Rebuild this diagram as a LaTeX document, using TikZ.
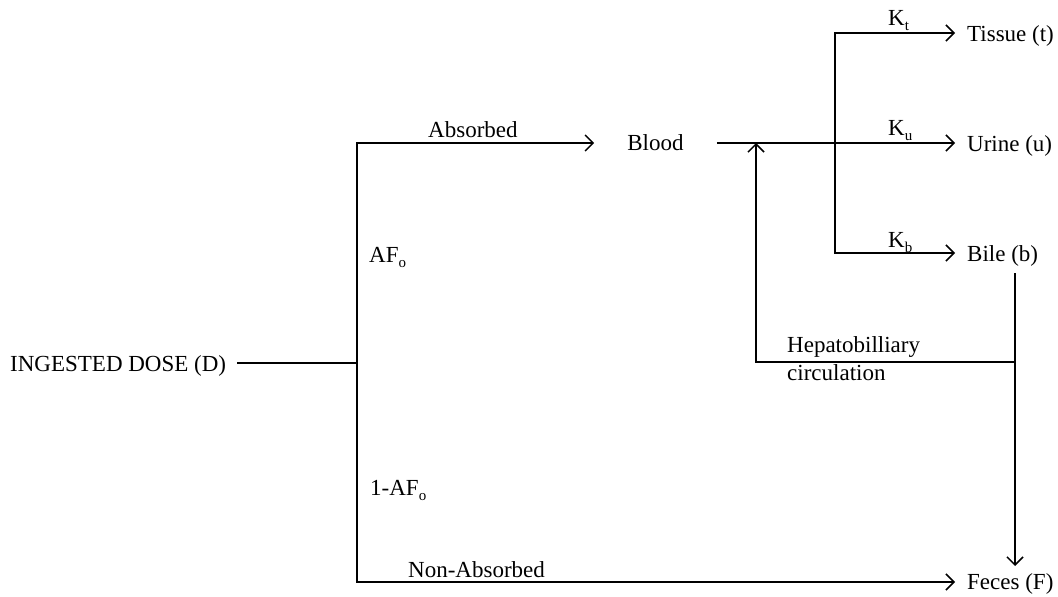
\documentclass[tikz,border=0pt]{standalone}
\usepackage{fontspec}
\setmainfont{Liberation Serif}
\usetikzlibrary{arrows.meta,calc}
\newcommand{\sbs}[1]{\raisebox{-5pt}{\fontsize{15}{15}\selectfont #1}}
\begin{document}
\begin{tikzpicture}[x=1pt,y=-1pt,
  every node/.style={inner sep=0pt, font=\fontsize{23}{28}\selectfont},
  conn/.style={line width=1.6pt},
  arr/.style={conn,-{Straight Barb[length=8pt,width=16pt,line width=1.5pt]}},
  lbl/.style={anchor=base west},
  tgt/.style={anchor=base west, inner xsep=12pt, inner ysep=0pt}]
\useasboundingbox (0,0) rectangle (1058,597);
% nodes
\node[lbl] (dose) at (10,371) {INGESTED DOSE (D)};
\node[inner xsep=33pt] (blood) at (655.5,143) {Blood};
\node[tgt] (tissue) at (955,41) {Tissue (t)};
\node[tgt] (urine) at (955,151) {Urine (u)};
\node[tgt] (bile) at (955,261) {Bile (b)};
\node[tgt] (feces) at (955,589) {Feces (F)};
% labels
\node[lbl] (abs) at (428,137) {Absorbed};
\node[lbl] (af) at (369,262) {AF\sbs{o}};
\node[lbl] (naf) at (370,495) {1-AF\sbs{o}};
\node[lbl] (nabs) at (408,577) {Non-Absorbed};
\node[lbl] (kt) at (888,25) {K\sbs{t}};
\node[lbl] (ku) at (888,135) {K\sbs{u}};
\node[lbl] (kb) at (888,247) {K\sbs{b}};
\node[anchor=base west, align=left] (hep) at (787,380) {Hepatobilliary\\circulation};
% coordinates
\coordinate (j) at (357,363);
\coordinate (top) at (357,143);
\coordinate (bot) at (357,582);
\coordinate (sm) at (835,143);
\coordinate (st) at (835,33);
\coordinate (sb) at (835,253);
\coordinate (bd) at (1015,273);
\coordinate (fd) at (1015,566);
\coordinate (hr) at (1015,362);
\coordinate (hl) at (756,362);
% connectors
\draw[conn] ($(j -| dose.east)+(11,0)$) -- (j);
\draw[arr] (j) -- (top) -- (top -| blood.west);
\draw[arr] (j) -- (bot) -- (bot -| feces.west);
\draw[arr] (blood.east) -- (blood.east -| urine.west);
\draw[arr] (sm) -- (st) -- (st -| tissue.west);
\draw[arr] (sm) -- (sb) -- (sb -| bile.west);
\draw[arr] (bd) -- (fd);
\draw[arr] (hr) -- (hl) -- (hl |- blood.east);
\end{tikzpicture}
\end{document}
